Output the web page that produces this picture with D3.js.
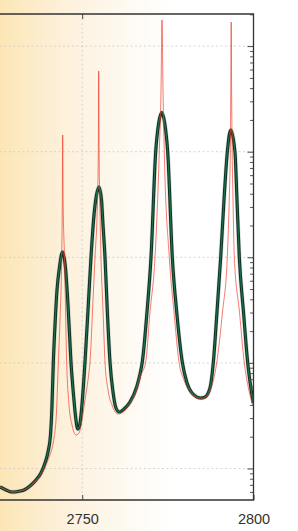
<!DOCTYPE html>
<html>
<head>
<meta charset="utf-8">
<script src="https://cdn.jsdelivr.net/npm/d3@7"></script>
<style>
    body { margin: 0; background: #fff; }
    svg { display: block; }
    .tick text { font-family: "Liberation Sans", Arial, sans-serif; }
</style>
</head>
<body>
<script>

// wavenumber range and tick labels
var xDomain = [2726, 2800];
var xTicks = [2750, 2800];
var yDomain = [0.503, 20140];
var yDecades = [1, 10, 100, 1000, 10000];

// fitted (smooth) curve
var fitWave = [2726.00, 2727.75, 2729.50, 2731.25, 2733.01, 2734.76, 2736.51, 2737.97, 2739.14, 2740.01,
    2740.74, 2741.18, 2741.56, 2742.06, 2742.64, 2743.37, 2744.24, 2745.12, 2745.85, 2746.73,
    2747.46, 2748.04, 2748.68, 2749.21, 2749.79, 2750.37, 2750.81, 2751.69, 2752.56, 2753.44,
    2754.17, 2754.90, 2755.63, 2756.07, 2756.65, 2757.38, 2758.11, 2758.99, 2759.86, 2760.82,
    2762.20, 2763.95, 2765.90, 2766.87, 2767.54, 2768.91, 2770.08, 2771.45, 2772.33, 2773.20,
    2774.08, 2774.95, 2776.30, 2777.67, 2779.21, 2780.59, 2782.05, 2784.67, 2785.84, 2787.30,
    2788.26, 2789.34, 2790.42, 2791.39, 2792.35, 2793.34, 2794.60, 2795.18, 2795.86, 2797.08,
    2798.31, 2799.94];
var fitVals = [0.668, 0.626, 0.599, 0.606, 0.626, 0.683, 0.778, 0.906, 1.127, 1.433,
    2.076, 3.994, 10.0, 22.85, 49.0, 80.9, 112.2, 79.2, 35.3, 10.0,
    4.97, 3.14, 2.366, 2.526, 3.58, 6.18, 10.2, 31.7, 100, 251.6,
    389, 463, 349, 202, 100, 28.4, 10.2, 5.30, 3.74, 3.43,
    3.66, 4.26, 5.91, 7.85, 10.2, 30.3, 100, 1000, 1870, 2350,
    1870, 1000, 100, 28.4, 10.2, 6.45, 5.19, 4.65, 4.75, 5.79,
    10.0, 30.3, 100, 349, 985, 1605, 985, 349, 100, 30.3,
    10.0, 4.17];

// measured (sharp) spectrum
var obsWave = [2726.00, 2727.75, 2729.50, 2731.25, 2733.01, 2734.76, 2736.51, 2737.97, 2739.14, 2740.01,
    2740.89, 2741.76, 2742.49, 2743.02, 2743.51, 2744.01, 2744.19, 2744.30, 2744.42, 2744.83,
    2745.47, 2746.14, 2747.02, 2748.19, 2749.06, 2749.94, 2750.81, 2751.69, 2752.27, 2753.15,
    2753.73, 2754.46, 2754.70, 2754.81, 2754.93, 2755.13, 2755.48, 2756.07, 2756.65, 2757.53,
    2758.69, 2760.53, 2762.20, 2763.95, 2765.90, 2767.16, 2768.53, 2769.79, 2771.25, 2772.50,
    2773.00, 2773.29, 2773.58, 2773.96, 2775.42, 2776.79, 2778.25, 2779.71, 2782.05, 2784.67,
    2785.84, 2787.30, 2789.26, 2790.95, 2792.35, 2792.99, 2793.23, 2793.37, 2793.49, 2793.61,
    2793.78, 2794.02, 2794.40, 2795.91, 2797.31, 2798.39, 2799.94];
var obsVals = [0.668, 0.626, 0.599, 0.606, 0.626, 0.675, 0.761, 0.868, 1.033, 1.204,
    1.433, 1.944, 3.428, 10.0, 25.5, 100, 349, 1439, 349, 100,
    10.0, 3.994, 2.58, 2.076, 2.17, 2.88, 4.45, 6.89, 10.2, 39.4,
    100, 349, 1038, 5810, 1038, 349, 100, 31.7, 10.2, 5.54,
    3.994, 3.28, 3.50, 4.08, 5.54, 7.68, 10.2, 30.3, 100, 1000,
    3840, 17670, 3840, 1000, 100, 30.3, 10.2, 6.89, 5.08, 4.55,
    4.65, 5.42, 10.0, 30.3, 100, 434, 985, 3840, 16910, 3840,
    985, 349, 100, 30.3, 10.0, 6.04, 3.91];

var W = 298, H = 531;
var margin = {top: 14, right: 44.5, bottom: 31, left: 0};
var width = W - margin.left - margin.right,
    height = H - margin.top - margin.bottom;

var svg = d3.select("body").append("svg")
    .attr("width", W)
    .attr("height", H);

// warm background fading to white
var grad = svg.append("defs").append("linearGradient")
    .attr("id", "bg")
    .attr("x1", "0%").attr("x2", "100%")
    .attr("y1", "0%").attr("y2", "0%");
grad.append("stop").attr("offset", "0%").attr("stop-color", "#fce6b6");
grad.append("stop").attr("offset", "22%").attr("stop-color", "#fdf1dc");
grad.append("stop").attr("offset", "40%").attr("stop-color", "#fef8ef");
grad.append("stop").attr("offset", "58%").attr("stop-color", "#ffffff");

svg.append("rect")
    .attr("width", W).attr("height", H)
    .attr("fill", "url(#bg)");

var g = svg.append("g")
    .attr("transform", "translate(" + margin.left + "," + margin.top + ")");

var x = d3.scaleLinear().domain(xDomain).range([0, width]);
var y = d3.scaleLog().domain(yDomain).range([height, 0]);

// minor log ticks 2..9 in every decade
var minor = [];
[0.1, 1, 10, 100, 1000, 10000].forEach(function(d) {
    for (var k = 2; k <= 9; k++) {
        var v = d * k;
        if (v >= yDomain[0] && v <= yDomain[1]) minor.push(v);
    }
});

// grid
g.append("g")
    .selectAll("line.gy")
    .data(yDecades)
    .enter().append("line")
        .attr("x1", 0).attr("x2", width)
        .attr("y1", function(d) { return y(d); })
        .attr("y2", function(d) { return y(d); })
        .attr("stroke", "#c6c6c6")
        .attr("stroke-width", 0.7)
        .attr("stroke-dasharray", "2,2.5");
g.append("g")
    .selectAll("line.gx")
    .data([2750])
    .enter().append("line")
        .attr("x1", function(d) { return x(d); })
        .attr("x2", function(d) { return x(d); })
        .attr("y1", 0).attr("y2", height)
        .attr("stroke", "#c6c6c6")
        .attr("stroke-width", 0.7)
        .attr("stroke-dasharray", "2,2.5");

// curves
var clip = g.append("clipPath").attr("id", "plotclip")
    .append("rect").attr("width", width).attr("height", height);

var fitData = fitWave.map(function(d, i) { return [d, fitVals[i]]; });
var obsData = obsWave.map(function(d, i) { return [d, obsVals[i]]; });

var line = d3.line()
    .x(function(d) { return x(d[0]); })
    .y(function(d) { return y(d[1]); })
    .curve(d3.curveMonotoneX);

var curves = g.append("g").attr("clip-path", "url(#plotclip)");

curves.append("path")
    .datum(fitData)
    .attr("fill", "none")
    .attr("stroke", "#9aa39e")
    .attr("stroke-opacity", 0.4)
    .attr("stroke-width", 4.4)
    .attr("d", line);
curves.append("path")
    .datum(fitData)
    .attr("fill", "none")
    .attr("stroke", "#0a2a1e")
    .attr("stroke-width", 3.1)
    .attr("d", line);
curves.append("path")
    .datum(fitData)
    .attr("fill", "none")
    .attr("stroke", "#1d6d4b")
    .attr("stroke-width", 1.4)
    .attr("d", line);

curves.append("path")
    .datum(obsData)
    .attr("fill", "none")
    .attr("stroke", "#ec3522")
    .attr("stroke-opacity", 0.72)
    .attr("stroke-width", 0.9)
    .attr("d", line);

// x axis, ticks pointing in
var xAxis = g.append("g")
    .attr("transform", "translate(0," + height + ")")
    .call(d3.axisBottom(x).tickValues(xTicks).tickSize(-5).tickPadding(14).tickFormat(d3.format("d")));
xAxis.select(".domain").remove();
xAxis.selectAll(".tick line").attr("stroke", "#444");
xAxis.selectAll(".tick text")
    .attr("font-size", "14.5px")
    .attr("fill", "#333");

var xTop = g.append("g")
    .call(d3.axisTop(x).tickValues([2750]).tickSize(-5).tickFormat(""));
xTop.select(".domain").remove();
xTop.selectAll(".tick line").attr("stroke", "#444");

// y axis on the right, major + minor ticks pointing in
var yMajor = g.append("g")
    .attr("transform", "translate(" + width + ",0)")
    .call(d3.axisRight(y).tickValues(yDecades).tickSize(-6).tickFormat(""));
yMajor.select(".domain").remove();
yMajor.selectAll(".tick line").attr("stroke", "#444");

var yMinor = g.append("g")
    .attr("transform", "translate(" + width + ",0)")
    .call(d3.axisRight(y).tickValues(minor).tickSize(-3.5).tickFormat(""));
yMinor.select(".domain").remove();
yMinor.selectAll(".tick line").attr("stroke", "#555");

// frame (left side is off the picture)
g.append("path")
    .attr("d", "M0,0H" + width + "V" + height + "H0")
    .attr("fill", "none")
    .attr("stroke", "#333")
    .attr("stroke-width", 1.3);

</script>
</body>
</html>
